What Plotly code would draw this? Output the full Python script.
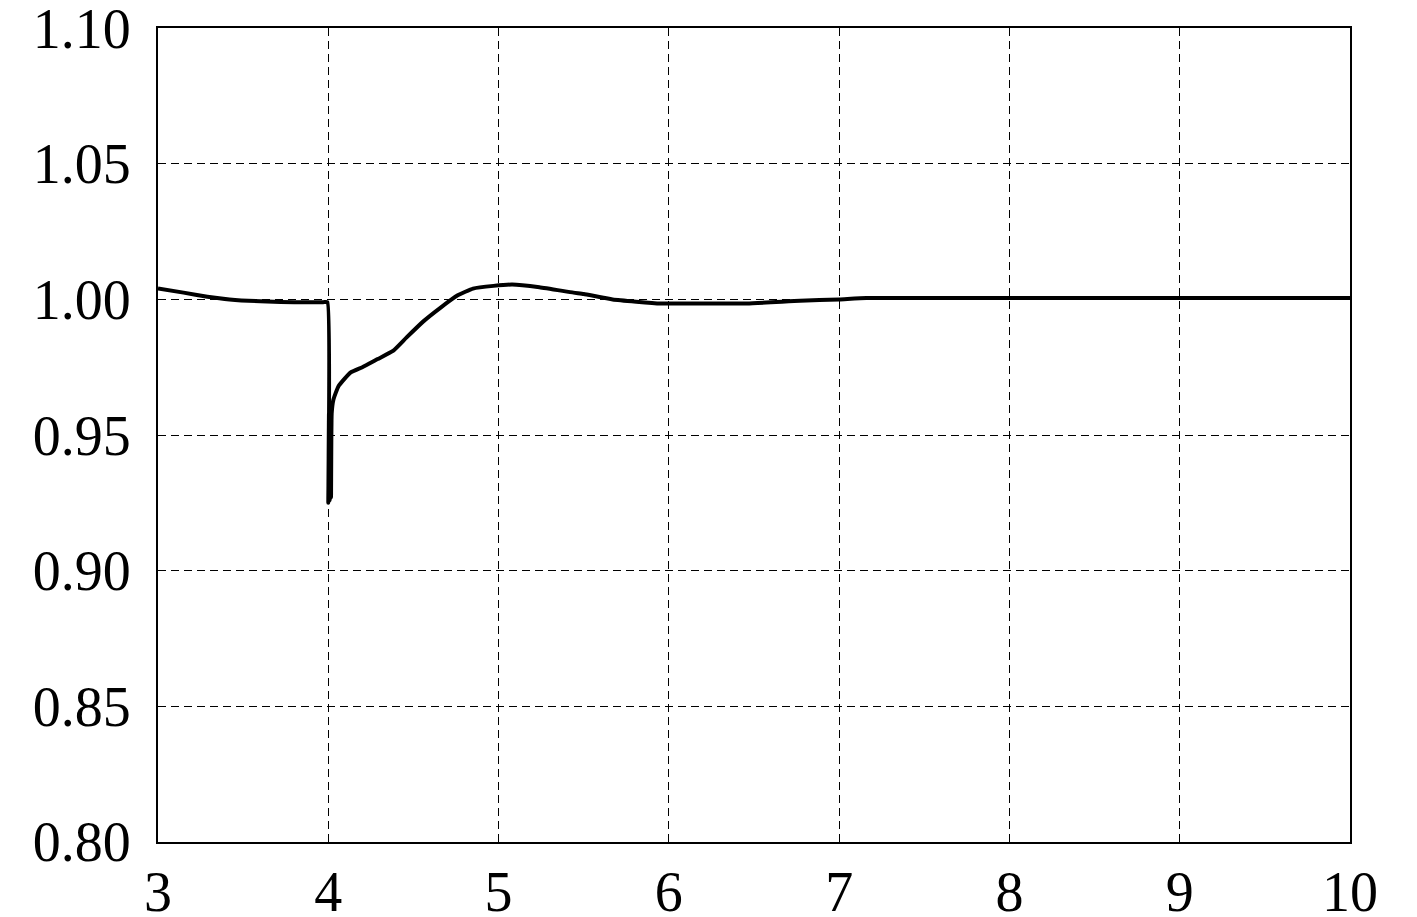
import plotly.graph_objects as go

# time (s) and per-unit values
t = [3.00, 3.15, 3.29, 3.42, 3.64, 3.80, 3.97, 3.995, 4.000, 4.004, 4.008, 4.012, 4.016, 4.02, 4.03, 4.06, 4.13, 4.20,
     4.29, 4.38, 4.46, 4.56, 4.66, 4.76, 4.85, 4.97, 5.08, 5.24, 5.44, 5.50, 5.67,
     5.95, 6.20, 6.46, 6.77, 7.00, 7.16, 8.00, 9.00, 10.00]
v = [1.0040, 1.0025, 1.0010, 1.0000, 0.9992, 0.9990, 0.9990, 0.9990, 0.9250, 0.9580, 0.9260, 0.9560, 0.9270, 0.9580, 0.9630, 0.9680, 0.9730, 0.9750,
     0.9780, 0.9810, 0.9860, 0.9920, 0.9970, 1.0015, 1.0040, 1.0050, 1.0055, 1.0045, 1.0025, 1.0020, 1.0000,
     0.9985, 0.9985, 0.9985, 0.9995, 1.0000, 1.0005, 1.0005, 1.0005, 1.0005]

x_ticks = [3, 4, 5, 6, 7, 8, 9, 10]
y_ticks = [0.80, 0.85, 0.90, 0.95, 1.00, 1.05, 1.10]
y_labels = ["0.80", "0.85", "0.90", "0.95", "1.00", "1.05", "1.10"]

fig = go.Figure()
fig.add_trace(go.Scatter(x=t, y=v, mode="lines",
                         line=dict(color="black", width=4, shape="spline", smoothing=0.4),
                         showlegend=False, hoverinfo="skip"))

font = dict(family="Liberation Serif, Times New Roman, serif", size=56, color="black")

fig.update_layout(
    width=1409, height=909,
    margin=dict(l=150, r=67, t=20, b=75),
    paper_bgcolor="white", plot_bgcolor="white",
    font=font,
)
fig.update_xaxes(range=[3, 10], tickvals=x_ticks, ticktext=[str(x) for x in x_ticks],
                 showline=True, linecolor="black", linewidth=2, mirror=True,
                 showgrid=True, gridcolor="black", gridwidth=1.3, griddash="8px,5px",
                 zeroline=False, ticks="", tickfont=font, ticklabelstandoff=0,
                 ticklabeloverflow="allow", automargin=False)
fig.update_yaxes(range=[0.7999, 1.1001], tickvals=y_ticks, ticktext=y_labels,
                 showline=True, linecolor="black", linewidth=2, mirror=True,
                 showgrid=True, gridcolor="black", gridwidth=1.3, griddash="8px,5px",
                 zeroline=False, ticks="", tickfont=font, ticklabelstandoff=14,
                 ticklabeloverflow="allow", automargin=False)

fig.write_html("out.html")
